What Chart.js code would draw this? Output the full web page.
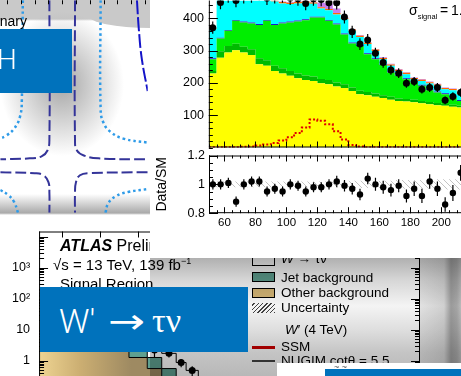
<!DOCTYPE html>
<html>
<head>
<meta charset="utf-8">
<script src="https://cdn.jsdelivr.net/npm/chart.js@4.4.1/dist/chart.umd.min.js"></script>
<style>
  html, body { margin: 0; padding: 0; }
  body { width: 461px; height: 376px; overflow: hidden; position: relative; background: #fff;
         font-family: "Liberation Sans", Arial, sans-serif; }
  canvas { position: absolute; }
  .box { position: absolute; }
  .txt { position: absolute; white-space: nowrap; color: #000; line-height: 16px; }
  .tile { position: absolute; background: #0072bc; color: #fff; z-index: 10; overflow: hidden;
          font-family: Roboto, "Liberation Sans", sans-serif; font-weight: 300; }
  .tile span { position: absolute; white-space: nowrap; }
</style>
</head>
<body>

<!-- contour panel background -->
<div class="box" style="left:0;top:0;width:150px;height:215px;z-index:1;
  background:
    radial-gradient(ellipse 62px 72px at 62px 84px, rgba(150,150,150,0.85), rgba(255,255,255,0) 100%),
    linear-gradient(to bottom, #c9c9c9 0, #c9c9c9 19px, #ffffff 21px, #ffffff 194px, #e4e4e4 200px, #a9a9a9 213px, #ffffff 215px);"></div>
<div class="box" style="left:88px;top:15px;width:62px;height:13px;z-index:1;background:#c9c9c9;border-bottom-left-radius:62px 13px;"></div>
<div class="txt" style="left:-120px;width:147px;text-align:right;top:13px;font-size:14px;z-index:3;">Preliminary</div>
<div class="tile" style="left:0;top:29px;width:72px;height:64px;">
  <span style="left:-3px;top:14px;font-size:28px;line-height:34px;">H</span>
</div>

<!-- top-right annotation -->
<div class="txt" style="left:409px;top:1px;font-size:14px;line-height:18px;z-index:7;">σ<span style="font-size:7.5px;position:relative;top:4px;">signal</span>&thinsp;=&thinsp;1.8</div>

<!-- log plot texts -->
<div class="txt" style="left:60px;top:238px;font-size:16px;z-index:3;"><b><i>ATLAS</i></b> Preliminary</div>
<div class="txt" style="left:53px;top:257px;font-size:15px;z-index:3;">√s = 13 TeV, 139 fb<sup style="font-size:9px;line-height:0;">−1</sup></div>
<div class="txt" style="left:60px;top:276px;font-size:15px;z-index:3;">Signal Region</div>

<!-- legend of the log plot -->
<div class="box" style="left:252px;top:256px;width:21px;height:8px;border:1.5px solid #000;background:#fff;z-index:3;"></div>
<div class="txt" style="left:281px;top:251px;font-size:13.5px;z-index:3;"><i>W</i> → τν</div>
<div class="box" style="left:252px;top:272px;width:21px;height:8px;border:1.5px solid #000;background:#5fa090;z-index:3;"></div>
<div class="txt" style="left:281px;top:270px;font-size:13.5px;z-index:3;">Jet background</div>
<div class="box" style="left:252px;top:288px;width:21px;height:8px;border:1.5px solid #000;background:#d8b978;z-index:3;"></div>
<div class="txt" style="left:281px;top:285px;font-size:13.5px;z-index:3;">Other background</div>
<div class="box" style="left:252px;top:303px;width:23px;height:10px;z-index:3;
  background:repeating-linear-gradient(-45deg, #444 0 1px, transparent 1px 3px);"></div>
<div class="txt" style="left:281px;top:300px;font-size:13.5px;z-index:3;">Uncertainty</div>
<div class="txt" style="left:285px;top:322px;font-size:13.5px;z-index:3;"><i>W</i>′ (4 TeV)</div>
<div class="box" style="left:252px;top:346px;width:23px;height:3px;background:#cc0000;z-index:3;"></div>
<div class="txt" style="left:281px;top:339px;font-size:13.5px;z-index:3;">SSM</div>
<div class="box" style="left:252px;top:360px;width:23px;height:2px;background:#444;z-index:3;"></div>
<div class="txt" style="left:281px;top:353px;font-size:13.5px;z-index:3;">NUGIM cotθ = 5.5</div>

<!-- shading over the lower right part -->
<div class="box" style="left:150px;top:258px;width:311px;height:118px;z-index:4;mix-blend-mode:multiply;
  background:linear-gradient(to bottom, #b0b0b0 0px, #d6d6d6 22px, #f4f4f4 48px, #dedede 72px, #c4c4c4 95px, #b8b8b8 118px);"></div>
<div class="box" style="left:420px;top:258px;width:41px;height:118px;z-index:4;mix-blend-mode:multiply;
  background:linear-gradient(to right, #ececec 0, #dadada 24px, #a2a2a2 31px, #adadad 37px, #c4c4c4 41px);"></div>
<div class="box" style="left:150px;top:225px;width:311px;height:33px;background:#fff;z-index:5;"></div>

<div class="tile" style="left:40px;top:287px;width:208px;height:65px;">
  <span style="left:19px;top:14px;font-size:34px;line-height:40px;">W′</span>
  <span style="left:68px;top:14px;font-size:34px;line-height:40px;font-family:'DejaVu Sans',sans-serif;font-weight:normal;transform:scaleX(1.3);transform-origin:0 0;">→</span>
  <span style="left:112px;top:14px;font-size:34px;line-height:40px;font-family:'Liberation Serif',serif;font-weight:normal;">τν</span>
</div>
<div class="box" style="left:277px;top:363px;width:184px;height:13px;background:#fff;z-index:11;"></div>
<div class="txt" style="left:334px;top:359px;font-size:9px;color:#555;z-index:12;">~ ~</div>
<div class="box" style="left:325px;top:369px;width:136px;height:7px;background:#0072bc;z-index:12;"></div>

<script>
// ---------- top-right: stacked invariant mass, 5 GeV bins from 50 ----------
const binLo = 50, binW = 5;
const yellowBkg  = [229,278,294,301,294,286,258,253,237,229,222,214,209,206,199,196,189,184,175,165,162,157,153,148,144,142,140,137,134,131,129,126,124];
const dkGreenBkg = [8,20,20,20,18,18,18,17,16,16,15,15,14,14,13,13,12,12,11,11,10,10,9,9,8,8,8,7,7,7,6,6,6];
const greenBkg   = [36,39,47,71,75,80,103,122,126,139,150,161,171,182,190,183,180,154,136,138,117,106,93,75,70,61,53,47,36,32,30,23,14];
const blueBkg    = [3,3,3,3,3,3,3,3,3,3,3,3,3,3,3,3,3,3,3,3,3,3,3,3,3,3,3,3,3,3,3,3,3];
const cyanBkg    = [90,120,106,75,78,78,80,63,70,59,54,53,51,40,25,30,28,44,36,25,28,23,15,18,12,13,7,12,18,18,12,19,18];
const orangeBkg  = [4,4,4,4,4,4,4,4,4,4,4,4,4,4,4,4,4,4,4,4,4,4,4,4,4,4,4,4,4,4,4,4,4];
const violetBkg  = [2,2,2,2,2,2,2,2,2,2,2,2,2,2,14,16,14,2,2,2,2,2,2,2,2,2,2,2,2,2,2,2,2];
const signalHist = [1,1,1,1,2,3,6,9,14,22,32,45,62,87,83,72,50,25,8,3,1,1,1,1,1,1,1,1,1,1,1,1,1];
const dataCounts = [371,449,470,455,468,470,478,462,468,470,462,460,446,460,458,448,448,404,358,320,333,292,263,240,230,199,204,180,186,186,146,158,170];
const dataErr    = [19,21,22,21,22,22,22,21,22,22,21,21,21,21,21,21,21,20,19,18,18,17,16,15,15,14,14,13,14,14,12,13,13];
const ratioVals  = [1.00,1.00,1.01,0.88,1.00,1.02,1.02,0.95,0.97,0.95,1.00,0.99,0.95,0.98,0.98,1.00,1.02,0.99,0.97,0.93,1.04,1.00,0.98,0.96,0.99,0.92,0.97,0.92,1.02,0.97,0.86,0.94,1.08];
const ratioErr   = [0.035,0.035,0.035,0.035,0.035,0.035,0.035,0.035,0.035,0.035,0.035,0.035,0.035,0.035,0.035,0.035,0.04,0.04,0.04,0.04,0.04,0.045,0.045,0.045,0.045,0.045,0.05,0.05,0.05,0.05,0.05,0.055,0.055];
const ratioSyst  = [0.02,0.02,0.02,0.02,0.02,0.02,0.02,0.02,0.02,0.02,0.02,0.02,0.02,0.02,0.02,0.02,0.02,0.02,0.025,0.025,0.025,0.025,0.025,0.025,0.03,0.03,0.03,0.03,0.03,0.035,0.035,0.035,0.035];
const ratioTicks = [0.8, 1.0, 1.2];
const massTicks  = [60, 80, 100, 120, 140, 160, 180, 200];

// ---------- bottom-left: log-scale mT stack ----------
const mtEdges   = [200,400,600,800,1000,1200,1380,1620,1810,2000,2130,2290,2470,2700,3000,3500,4000,5000];
const otherBkg  = [120,80,50,28,14,6,1.25,0.55,0.25,0.15,0.09,0.05,0.03,0.02,0.01,0.005,0.002];
const jetBkg    = [30,20,12,8,5,3,0.95,0.7,0.3,0.1,0.06,0.03,0.02,0.01,0.005,0.002,0.001];
const wTauNu    = [30,20,13,9,6,3,1.4,1.05,1.15,0.61,0.33,0.2,0.12,0.08,0.05,0.03,0.02];
const mtData    = [178,125,72,47,24,11,3.5,2.2,1.7,0.86,0.48,null,null,null,null,null,null];
const mtDataErr = [13,11,8.5,7,5,3.3,1.2,0.9,0.45,0.25,0.17,0,0,0,0,0,0];

// ---------- top-left: coupling-plane contours ----------
const contDashUL = [[0.307,1.536],[0.307,0.536],[0.293,0.45],[0.25,0.407],[0.164,0.393],[-0.05,0.386]];
const contDashUR = [[0.493,1.536],[0.493,0.521],[0.507,0.45],[0.557,0.414],[0.664,0.393],[1.021,0.386]];
const contDashLL = [[-0.05,0.293],[0.2,0.286],[0.264,0.271],[0.3,0.221],[0.307,0.143],[0.307,0]];
const contDashLR = [[1.021,0.293],[0.593,0.286],[0.529,0.271],[0.5,0.221],[0.493,0.143],[0.493,0]];
const contDotUL  = [[0.114,1.536],[0.107,0.821],[0.093,0.693],[0.05,0.607],[-0.007,0.557],[-0.05,0.536]];
const contDotUR  = [[0.679,1.536],[0.679,0.75],[0.7,0.65],[0.75,0.586],[0.843,0.536],[1.021,0.507]];
const contDotLL  = [[-0.05,0.164],[0.007,0.129],[0.05,0.079],[0.079,0]];
const contDotLR  = [[0.714,0],[0.736,0.071],[0.793,0.121],[0.879,0.15],[1.021,0.171]];
const contSolidR = [[0.943,1.536],[0.957,1.321],[0.979,1.107],[1.021,0.879]];

Chart.defaults.font.family = "'Liberation Sans', Arial, sans-serif";
Chart.defaults.color = '#000';

function steps(edges, vals) {
  const pts = vals.map((v, i) => ({x: edges[i], y: v}));
  pts.push({x: edges[vals.length], y: vals[vals.length - 1]});
  return pts;
}
function cumulate(list) {
  let run = list[0].map(() => 0);
  return list.map(arr => (run = run.map((s, i) => s + arr[i])));
}
function range(a, b, s) {
  const out = [];
  for (let v = a; v <= b + 1e-9; v += s) out.push(+v.toFixed(6));
  return out;
}
function logTicks(lo, hi, minor) {
  const out = [];
  for (let e = lo; e <= hi; e++) {
    if (minor) { for (let m = 2; m <= 9; m++) out.push(m * Math.pow(10, e)); }
    else out.push(Math.pow(10, e));
  }
  return out;
}
const pts = (xs, ys) => xs.map((x, i) => ({x: x, y: ys[i]}));
const xy = arr => arr.map(p => ({x: p[0], y: p[1]}));

// light "\\\" hatching for the ratio uncertainty band
const hatchTile = document.createElement('canvas');
hatchTile.width = 6; hatchTile.height = 6;
(function () {
  const h = hatchTile.getContext('2d');
  h.strokeStyle = '#c4c4c4';
  h.lineWidth = 1;
  h.beginPath(); h.moveTo(0, 0); h.lineTo(6, 6); h.stroke();
})();

// frame and inward ROOT-style ticks
const frames = {};
const rootFrame = {
  id: 'rootFrame',
  afterDatasetsDraw(chart) {
    const cfg = frames[chart.canvas.id];
    if (!cfg) return;
    const {ctx, chartArea: a} = chart;
    ctx.save();
    ctx.strokeStyle = '#000';
    ctx.lineWidth = 1;
    ctx.beginPath();
    (cfg.sides || []).forEach(s => {
      if (s === 'left')   { ctx.moveTo(a.left + .5, a.top); ctx.lineTo(a.left + .5, a.bottom); }
      if (s === 'right')  { ctx.moveTo(a.right - .5, a.top); ctx.lineTo(a.right - .5, a.bottom); }
      if (s === 'top')    { ctx.moveTo(a.left, a.top + .5); ctx.lineTo(a.right, a.top + .5); }
      if (s === 'bottom') { ctx.moveTo(a.left, a.bottom - .5); ctx.lineTo(a.right, a.bottom - .5); }
    });
    (cfg.ticks || []).forEach(t => {
      const sc = chart.scales[t.axis];
      t.vals.forEach(v => {
        const p = Math.round(sc.getPixelForValue(v)) + .5;
        if (t.side === 'left')   { ctx.moveTo(a.left, p); ctx.lineTo(a.left + t.len, p); }
        if (t.side === 'right')  { ctx.moveTo(a.right, p); ctx.lineTo(a.right - t.len, p); }
        if (t.side === 'top')    { ctx.moveTo(p, a.top); ctx.lineTo(p, a.top + t.len); }
        if (t.side === 'bottom') { ctx.moveTo(p, a.bottom); ctx.lineTo(p, a.bottom - t.len); }
      });
    });
    ctx.stroke();
    ctx.restore();
  }
};

// vertical error bars for datasets carrying an errs array
const errBars = {
  id: 'errBars',
  afterDatasetsDraw(chart) {
    const {ctx, chartArea: a} = chart;
    chart.data.datasets.forEach((ds, i) => {
      if (!ds.errs) return;
      const meta = chart.getDatasetMeta(i);
      const ys = chart.scales[meta.yAxisID];
      ctx.save();
      ctx.beginPath();
      ctx.rect(a.left, a.top, a.width, a.height);
      ctx.clip();
      ctx.strokeStyle = '#000';
      ctx.lineWidth = 1.2;
      ctx.beginPath();
      meta.data.forEach((el, j) => {
        const v = ds.data[j].y, e = ds.errs[j];
        if (v == null || !e) return;
        const lo = ys.type === 'logarithmic' ? Math.max(v - e, v * 0.05) : v - e;
        ctx.moveTo(el.x, ys.getPixelForValue(v + e));
        ctx.lineTo(el.x, ys.getPixelForValue(lo));
      });
      ctx.stroke();
      ctx.restore();
    });
  }
};
Chart.register(rootFrame, errBars);

function mk(id, z, config) {
  const c = document.createElement('canvas');
  c.id = id; c.width = 300; c.height = 200;
  c.style.zIndex = z;
  document.body.appendChild(c);
  config.options = Object.assign({
    responsive: false, maintainAspectRatio: false, animation: false, devicePixelRatio: 1,
    layout: {padding: 0}, events: []
  }, config.options);
  config.options.plugins = Object.assign({legend: {display: false}, tooltip: {enabled: false}}, config.options.plugins);
  return new Chart(c, config);
}
// size and move a canvas so its plotting area lands on the given box
function place(chart, l, t, r, b) {
  let a = chart.chartArea;
  chart.resize(Math.round(chart.width + (r - l) - (a.right - a.left)),
               Math.round(chart.height + (b - t) - (a.bottom - a.top)));
  chart.update('none');
  a = chart.chartArea;
  chart.canvas.style.left = (l - a.left) + 'px';
  chart.canvas.style.top = (t - a.top) + 'px';
}

// ===== main stacked histogram =====
const nBins = dataCounts.length;
const massEdges = range(binLo, binLo + nBins * binW, binW);
const massCenters = massEdges.slice(0, nBins).map(e => e + binW / 2);
const stackCols = ['#ffff00', '#00bb00', '#00ee00', '#1a1acc', '#00ffff', '#ff6a00', '#c77dee'];
const stackTops = cumulate([yellowBkg, dkGreenBkg, greenBkg, blueBkg, cyanBkg, orangeBkg, violetBkg]);
const mainSets = stackTops.map((vals, k) => ({
  data: steps(massEdges, vals), stepped: true, fill: k === 0 ? 'origin' : '-1',
  backgroundColor: stackCols[k], borderColor: 'rgba(0,0,0,0)', borderWidth: 0, pointRadius: 0, order: 10
}));
mainSets.push({data: steps(massEdges, signalHist), stepped: true, fill: false, borderColor: '#e00000',
  borderWidth: 2, borderDash: [2, 2], pointRadius: 0, order: 1});
mainSets.push({data: pts(massCenters, dataCounts), errs: dataErr, showLine: false, pointRadius: 3.5,
  pointBackgroundColor: '#000', pointBorderWidth: 0, order: 0});

frames.massMain = {sides: ['left', 'bottom'], ticks: [
  {axis: 'y', side: 'left', vals: range(0, 440, 20), len: 4},
  {axis: 'y', side: 'left', vals: range(100, 400, 100), len: 9},
  {axis: 'x', side: 'bottom', vals: range(50, 225, 5), len: 3},
  {axis: 'x', side: 'bottom', vals: range(60, 220, 20), len: 6}
]};
const chMain = mk('massMain', 6, {
  type: 'line',
  data: {datasets: mainSets},
  options: {
    scales: {
      x: {type: 'linear', min: 50, max: 225, display: false},
      y: {min: 0, max: 455, grid: {display: false, drawTicks: false}, border: {display: false},
          ticks: {stepSize: 100, padding: 5, font: {size: 12.5}, autoSkip: false,
                  callback: v => (v > 0 && v % 100 === 0) ? String(v) : ''}}
    }
  }
});
place(chMain, 209, 0, 480, 147);

// ===== ratio panel =====
frames.massRatio = {sides: ['left', 'right', 'top', 'bottom'], ticks: [
  {axis: 'x', side: 'bottom', vals: range(50, 225, 5), len: 3},
  {axis: 'x', side: 'bottom', vals: range(60, 220, 20), len: 6},
  {axis: 'x', side: 'top', vals: range(50, 225, 5), len: 3},
  {axis: 'x', side: 'top', vals: range(60, 220, 20), len: 6},
  {axis: 'y', side: 'left', vals: range(0.8, 1.2, 0.05), len: 4},
  {axis: 'y', side: 'left', vals: ratioTicks, len: 9}
]};
const chRatio = mk('massRatio', 6, {
  type: 'line',
  data: {datasets: [
    {data: steps(massEdges, ratioSyst.map(s => 1 - s)), stepped: true, fill: false,
     borderColor: 'rgba(0,0,0,0)', borderWidth: 0, pointRadius: 0, order: 5},
    {data: steps(massEdges, ratioSyst.map(s => 1 + s)), stepped: true, fill: '-1',
     backgroundColor: ctx => ctx.chart.ctx.createPattern(hatchTile, 'repeat'),
     borderColor: 'rgba(0,0,0,0)', borderWidth: 0, pointRadius: 0, order: 5},
    {data: pts(massCenters, ratioVals), errs: ratioErr, showLine: false, pointRadius: 3.2,
     pointBackgroundColor: '#000', pointBorderWidth: 0, order: 0}
  ]},
  options: {
    scales: {
      x: {type: 'linear', min: 50, max: 225, grid: {display: false, drawTicks: false}, border: {display: false},
          afterBuildTicks: s => { s.ticks = massTicks.map(v => ({value: v})); },
          ticks: {padding: 3, autoSkip: false, maxRotation: 0, font: {size: 11.5},
                  callback: v => String(v)}},
      y: {min: 0.8, max: 1.2, grid: {display: false, drawTicks: false}, border: {display: false},
          afterFit: s => { s.width = 59; },
          afterBuildTicks: s => { s.ticks = ratioTicks.map(v => ({value: v})); },
          ticks: {padding: 4, autoSkip: false, font: {size: 12.5},
                  callback: v => Math.abs(v - 1) < 1e-6 ? '1' : (+v).toFixed(1)},
          title: {display: true, text: 'Data/SM', font: {size: 14}, padding: {top: 4, bottom: 0}}}
    }
  }
});
place(chRatio, 209, 155, 480, 213);

// ===== contour panel =====
const solid = (d, c, w, dash) => ({data: xy(d), borderColor: c, borderWidth: w, borderDash: dash,
  pointRadius: 0, tension: 0.45, fill: false});
frames.contour = {sides: [], ticks: [{axis: 'x', side: 'top', vals: range(0, 1, 0.1), len: 4}]};
const chCont = mk('contour', 2, {
  type: 'line',
  data: {datasets: [
    solid(contDashUL, '#343499', 2, [11, 4]), solid(contDashUR, '#343499', 2, [11, 4]),
    solid(contDashLL, '#343499', 2, [11, 4]), solid(contDashLR, '#343499', 2, [11, 4]),
    solid(contDotUL, '#2e9be8', 2.5, [2.5, 3]), solid(contDotUR, '#2e9be8', 2.5, [2.5, 3]),
    solid(contDotLL, '#2e9be8', 2.5, [2.5, 3]), solid(contDotLR, '#2e9be8', 2.5, [2.5, 3]),
    solid(contSolidR, '#1414c8', 2, [14, 3])
  ]},
  options: {
    scales: {
      x: {type: 'linear', min: -0.05, max: 1.0214, display: false},
      y: {type: 'linear', min: 0, max: 1.5357, display: false}
    }
  }
});
place(chCont, 0, 0, 150, 215);

// ===== log-scale mT histogram =====
const mtCenters = mtEdges.slice(0, mtData.length).map((e, i) => (e + mtEdges[i + 1]) / 2);
const mtTops = cumulate([otherBkg, jetBkg, wTauNu]);
const tanFill = ctx => {
  const a = ctx.chart.chartArea;
  if (!a) return '#d8b978';
  const g = ctx.chart.ctx.createLinearGradient(a.left, 0, a.left + 92, 0);
  g.addColorStop(0, '#eed492');
  g.addColorStop(0.45, '#cbae72');
  g.addColorStop(1, '#9e8a62');
  return g;
};
const supers = {0: '1', 1: '10', 2: '10²', 3: '10³'};
frames.mtLog = {sides: ['left', 'top', 'right'], ticks: [
  {axis: 'y', side: 'left', vals: logTicks(-1, 4, false), len: 9},
  {axis: 'y', side: 'left', vals: logTicks(-1, 3, true), len: 5},
  {axis: 'y', side: 'right', vals: logTicks(-1, 4, false), len: 9},
  {axis: 'y', side: 'right', vals: logTicks(-1, 3, true), len: 5},
  {axis: 'x', side: 'top', vals: range(500, 5000, 500), len: 6}
]};
const chLog = mk('mtLog', 1, {
  type: 'line',
  data: {datasets: [
    {data: steps(mtEdges, mtTops[0]), stepped: true, fill: 'start', backgroundColor: tanFill,
     borderColor: '#000', borderWidth: 1, pointRadius: 0, order: 5},
    {data: steps(mtEdges, mtTops[1]), stepped: true, fill: '-1', backgroundColor: '#5fa090',
     borderColor: '#000', borderWidth: 1, pointRadius: 0, order: 5},
    {data: steps(mtEdges, mtTops[2]), stepped: true, fill: '-1', backgroundColor: '#ffffff',
     borderColor: '#000', borderWidth: 1, pointRadius: 0, order: 5},
    {data: pts(mtCenters, mtData), errs: mtDataErr, showLine: false, pointRadius: 3.5,
     pointBackgroundColor: '#000', pointBorderWidth: 0, order: 0}
  ]},
  options: {
    scales: {
      x: {type: 'linear', min: 200, max: 5200, display: false},
      y: {type: 'logarithmic', min: 0.1, max: 14500, grid: {display: false, drawTicks: false},
          border: {display: false},
          ticks: {padding: 9, autoSkip: false, font: {size: 12.5},
                  callback: v => {
                    const e = Math.log10(v);
                    return Math.abs(e - Math.round(e)) < 1e-6 && supers[Math.round(e)] ? supers[Math.round(e)] : '';
                  }}}
    }
  }
});
place(chLog, 39, 231, 420, 391);
</script>
</body>
</html>
